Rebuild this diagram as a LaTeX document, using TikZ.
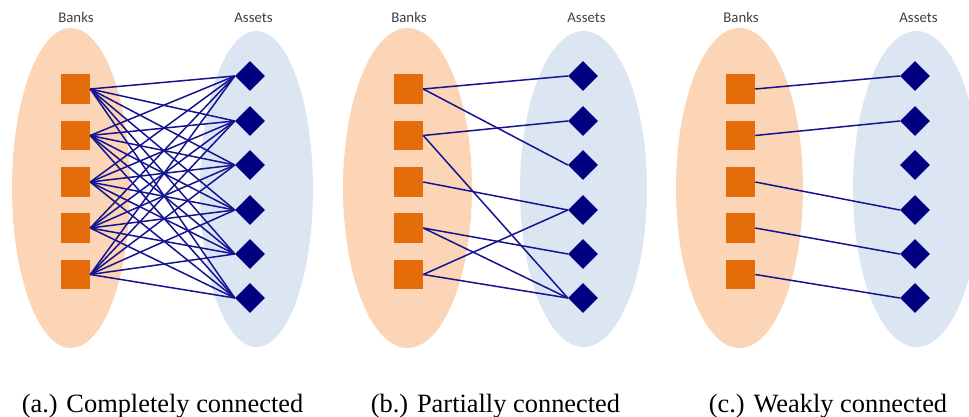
\documentclass[tikz,border=0pt]{standalone}
\usepackage{fontspec}
\setmainfont{Liberation Serif}
\newfontfamily\headfont{Carlito}
\usetikzlibrary{shapes.geometric}
\definecolor{bankfill}{HTML}{FBD5B5}
\definecolor{assetfill}{HTML}{DCE6F2}
\definecolor{bankorange}{HTML}{E46C0A}
\definecolor{navy}{HTML}{000080}
\definecolor{linkblue}{HTML}{141490}
\definecolor{headgray}{HTML}{404040}
\tikzset{
  bankset/.style={fill=bankfill},
  assetset/.style={fill=assetfill},
  bank/.style={rectangle, fill=bankorange, minimum size=29.5pt, inner sep=0pt},
  asset/.style={diamond, fill=navy, minimum size=30pt, inner sep=0pt},
  link/.style={draw=linkblue, line width=1.5pt},
  head/.style={text=headgray, font=\headfont\fontsize{14.8}{16}\selectfont, anchor=base},
  subcap/.style={font=\fontsize{26.4}{30}\selectfont, anchor=base}
}

\begin{document}
\begin{tikzpicture}[x=1pt, y=-1pt]
  \useasboundingbox (0,0) rectangle (969,417);

  % the two sets of each panel
  \begin{scope}
    \clip (0,0) rectangle (969,417);
    \foreach \bx/\brx/\ax/\arx in {71/59/256.5/56.5, 407.5/64.5/583.5/63.5, 739.5/63.5/916.5/63.5}{
      \fill[bankset] (\bx,188) ellipse [x radius=\brx, y radius=160];
      \fill[assetset] (\ax,189) ellipse [x radius=\arx, y radius=158];
    }
  \end{scope}

  % banks and assets
  \foreach \p/\dx in {a/0, b/333, c/665}{
    \foreach \i/\y in {1/89, 2/135.5, 3/182, 4/228, 5/274.5}
      \node[bank] (\p-bank\i) at (75.3+\dx,\y) {};
    \foreach \j/\y in {1/76, 2/121, 3/165, 4/210, 5/254, 6/298}
      \node[asset] (\p-asset\j) at (250+\dx,\y) {};
    \node[head] (\p-banks) at (76+\dx,23) {Banks};
    \node[head] (\p-assets) at (253.5+\dx,23) {Assets};
  }

  % (a) every bank holds every asset
  \foreach \i in {1,...,5}
    \foreach \j in {1,...,6}
      \draw[link] (a-bank\i.east) -- (a-asset\j.west);
  % (b) some links
  \foreach \i/\j in {1/1, 1/3, 2/2, 2/6, 3/4, 4/5, 4/6, 5/4, 5/6}
    \draw[link] (b-bank\i.east) -- (b-asset\j.west);
  % (c) one link per bank
  \foreach \i/\j in {1/1, 2/2, 3/4, 4/5, 5/6}
    \draw[link] (c-bank\i.east) -- (c-asset\j.west);

  \node[subcap] (cap-a) at (162.5,412) {(a.) Completely connected};
  \node[subcap] (cap-b) at (495.5,412) {(b.) Partially connected};
  \node[subcap] (cap-c) at (828,412) {(c.) Weakly connected};
\end{tikzpicture}
\end{document}
